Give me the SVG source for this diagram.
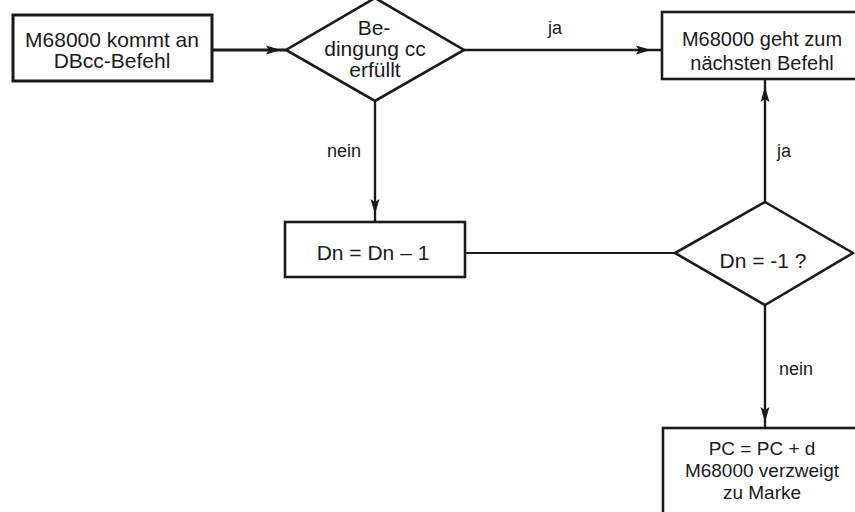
<svg xmlns="http://www.w3.org/2000/svg" width="855" height="512" viewBox="0 0 855 512">
<style>
.shape{fill:#fff;stroke:#1a1a1a;stroke-width:2.6}
.conn{fill:none;stroke:#1a1a1a;stroke-width:2.4}
.thin{stroke-width:1.8}
text{font-family:"Liberation Sans",Arial,sans-serif;font-size:21px;fill:#1a1a1a;text-anchor:middle}
.lbl{font-size:18px}
.mid{font-size:20px}
.small{font-size:19px}
</style>
<defs>
<marker id="ah" markerUnits="userSpaceOnUse" markerWidth="16" markerHeight="10" refX="15" refY="5" orient="auto">
<path d="M0,0.5 L15,5 L0,9.5 L3,5 z" fill="#1a1a1a"/>
</marker>
</defs>
<rect width="855" height="512" fill="#fff"/>
<g id="connectors">
<path class="conn" style="stroke-width:3" d="M212,50 L281,50 L286,50" marker-mid="url(#ah)"/>
<path class="conn" d="M464,50 L651,50 L662,50" marker-mid="url(#ah)"/>
<path class="conn" d="M375,100 L375,214 L375,222" marker-mid="url(#ah)"/>
<path class="conn thin" d="M465,253 L675,253"/>
<path class="conn" d="M765,202 L765,87 L765,79" marker-mid="url(#ah)"/>
<path class="conn" d="M765,305 L765,422 L765,428" marker-mid="url(#ah)"/>
<text class="lbl" x="555" y="34">ja</text>
<text class="lbl" x="344" y="157">nein</text>
<text class="lbl" x="784" y="157">ja</text>
<text class="lbl" x="796" y="375">nein</text>
</g>
<g id="start">
<rect class="shape" style="stroke-width:3" x="13" y="15" width="199" height="66"/>
<text x="112" y="47">M68000 kommt an</text>
<text x="112" y="68">DBcc-Befehl</text>
</g>
<g id="cond1">
<polygon class="shape" points="375,-2 464,50 375,101 286,50"/>
<text x="374" y="35">Be-</text>
<text x="375" y="56">dingung cc</text>
<text x="375" y="77">erfüllt</text>
</g>
<g id="next">
<rect class="shape" x="662" y="12" width="200" height="67"/>
<text class="mid" x="762" y="46">M68000 geht zum</text>
<text class="mid" x="762" y="70">nächsten Befehl</text>
</g>
<g id="decrement">
<rect class="shape" x="285" y="222" width="180" height="55"/>
<text x="373" y="260">Dn = Dn – 1</text>
</g>
<g id="cond2">
<polygon class="shape" points="765,202 853,253 765,305 675,253"/>
<text x="763" y="268">Dn = -1 ?</text>
</g>
<g id="branch">
<rect class="shape" x="663" y="428" width="200" height="95"/>
<text class="small" x="762" y="455">PC = PC + d</text>
<text class="small" x="762" y="477">M68000 verzweigt</text>
<text class="small" x="762" y="499">zu Marke</text>
</g>
</svg>
